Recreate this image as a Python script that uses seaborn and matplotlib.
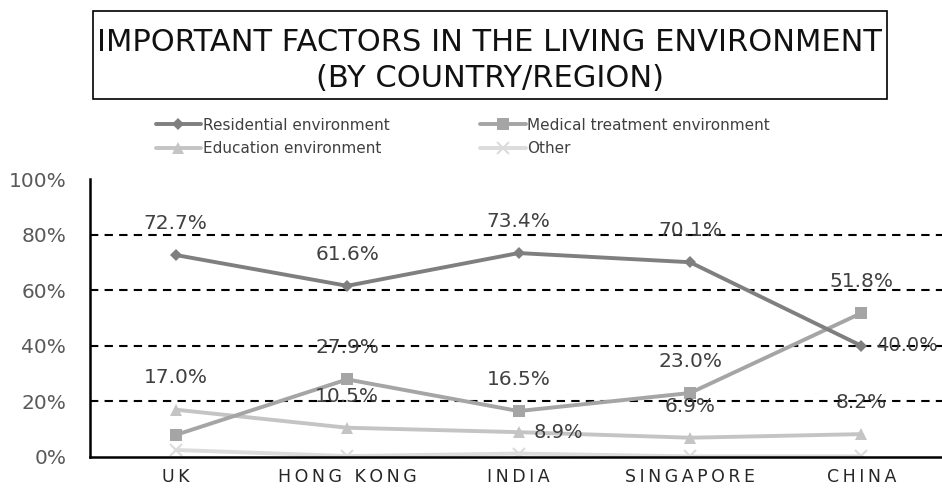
import pandas as pd
import matplotlib.pyplot as plt
import seaborn as sns
from matplotlib.patches import Rectangle

# Values (percent)
countries = ['UK', 'HONG KONG', 'INDIA', 'SINGAPORE', 'CHINA']
residential = [72.7, 61.6, 73.4, 70.1, 40.0]
medical = [7.9, 27.9, 16.5, 23.0, 51.8]
education = [17.0, 10.5, 8.9, 6.9, 8.2]
other = [2.5, 0.3, 1.2, 0.2, 0.2]

series_names = ['Residential environment', 'Medical treatment environment',
                'Education environment', 'Other']
series_values = [residential, medical, education, other]
colors = ['#7f7f7f', '#a5a5a5', '#c4c4c4', '#dcdcdc']
markers = ['D', 's', '^', 'x']
marker_sizes = [6, 8, 9, 8]

# which labels to show and where ('above' / 'right' / None)
label_pos = [
    ['above', 'above', 'above', 'above', 'right'],
    [None, 'above', 'above', 'above', 'above'],
    ['above', 'above', 'right', 'above', 'above'],
    [None, None, None, None, None],
]

rows = []
for name, vals in zip(series_names, series_values):
    for i, v in enumerate(vals):
        rows.append({'series': name, 'x': i, 'value': v})
df = pd.DataFrame(rows)

sns.set_style('white')
plt.rcParams['font.family'] = ['DejaVu Sans']

fig = plt.figure(figsize=(9.42, 4.95), dpi=100)
ax = fig.add_axes([0.0955, 0.077, 0.91, 0.561])

# draw in reverse so the darker series sit on top
for name, col, mk, ms in list(zip(series_names, colors, markers, marker_sizes))[::-1]:
    sub = df[df['series'] == name]
    sns.lineplot(data=sub, x='x', y='value', ax=ax, color=col, linewidth=2.8,
                 marker=mk, markersize=ms, markeredgecolor=col,
                 markeredgewidth=1.5 if mk == 'x' else 0, label=name, legend=False)

for vals, poss in zip(series_values, label_pos):
    for i, (v, p) in enumerate(zip(vals, poss)):
        if p == 'above':
            ax.text(i, v + 8, f'{v:.1f}%', ha='center', va='bottom', fontsize=14.5, color='#404040')
        elif p == 'right':
            ax.text(i + 0.085, v, f'{v:.1f}%', ha='left', va='center', fontsize=14, color='#404040')

ax.set_xlim(-0.5, 4.5)
ax.set_ylim(0, 100)
ax.set_yticks([0, 20, 40, 60, 80, 100])
ax.set_yticklabels([f'{t}%' for t in [0, 20, 40, 60, 80, 100]], fontsize=14.5, color='#595959')
ax.set_xticks(range(len(countries)))
# letter-spaced category names
ax.set_xticklabels(['\u2009'.join(c) for c in countries], fontsize=12.5, color='#262626')
ax.tick_params(axis='y', length=0, pad=17)
ax.tick_params(axis='x', length=0, pad=8)
for y in [20, 40, 60, 80]:
    ax.axhline(y, color='black', linestyle=(0, (4, 3)), linewidth=1.5, zorder=0)
ax.set_xlabel('')
ax.set_ylabel('')
for s in ['top', 'right']:
    ax.spines[s].set_visible(False)
for s in ['left', 'bottom']:
    ax.spines[s].set_color('black')
    ax.spines[s].set_linewidth(1.8)

# legend (column-wise fill: Residential, Education | Medical, Other)
handles, labels = ax.get_legend_handles_labels()
hmap = dict(zip(labels, handles))
order = ['Residential environment', 'Education environment',
         'Medical treatment environment', 'Other']
fig.legend([hmap[k] for k in order], order, loc='upper left',
           bbox_to_anchor=(0.157, 0.778), ncol=2, frameon=False, fontsize=11,
           handlelength=3.0, handletextpad=0.1, columnspacing=5.9,
           labelspacing=0.55, borderpad=0, labelcolor='#404040')

# boxed title
fig.patches.append(Rectangle((0.099, 0.8), 0.843, 0.177, transform=fig.transFigure,
                             fill=False, edgecolor='black', linewidth=1.2))
fig.text(0.52, 0.914, 'IMPORTANT FACTORS IN THE LIVING ENVIRONMENT',
         ha='center', va='center', fontsize=22, color='#111111')
fig.text(0.52, 0.842, '(BY COUNTRY/REGION)', ha='center', va='center',
         fontsize=22, color='#111111')

fig.savefig('out.png', dpi=100)
